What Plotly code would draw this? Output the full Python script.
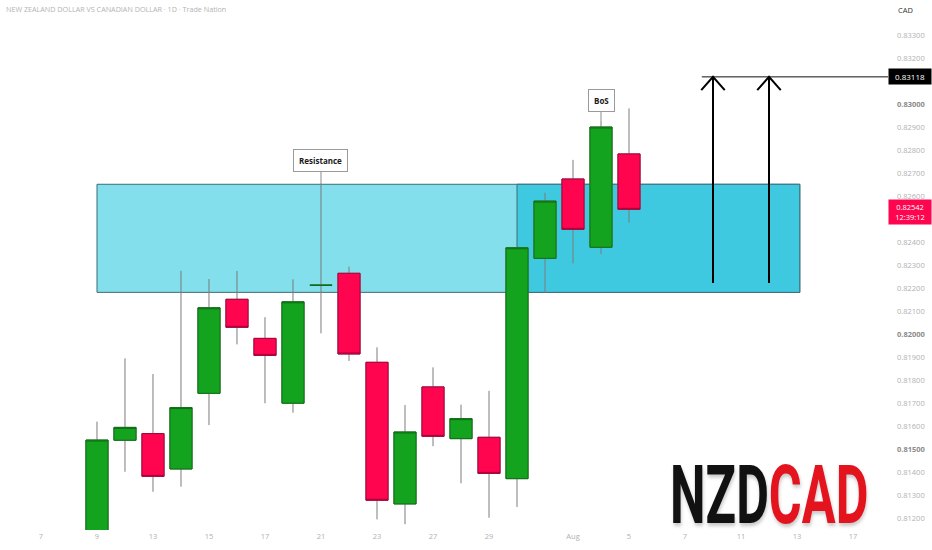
import plotly.graph_objects as go

# ---------------- data ----------------
bar_index = list(range(20))
opens  = [0.81130, 0.81538, 0.81567, 0.81413, 0.81742, 0.82151, 0.81981, 0.81699, 0.82212, 0.82264,
          0.81877, 0.81261, 0.81770, 0.81545, 0.81551, 0.81371, 0.82329, 0.82674, 0.82377, 0.82783]
highs  = [0.81619, 0.81894, 0.81826, 0.82275, 0.82239, 0.82274, 0.82073, 0.82238, 0.82657, 0.82293,
          0.81942, 0.81691, 0.81855, 0.81693, 0.81753, 0.82378, 0.82614, 0.82757, 0.82927, 0.82981]
lows   = [0.81130, 0.81401, 0.81314, 0.81336, 0.81604, 0.81955, 0.81699, 0.81658, 0.82003, 0.81883,
          0.81194, 0.81173, 0.81512, 0.81351, 0.81201, 0.81248, 0.82180, 0.82307, 0.82347, 0.82484]
closes = [0.81539, 0.81594, 0.81381, 0.81680, 0.82114, 0.82029, 0.81907, 0.82140, 0.82212, 0.81913,
          0.81277, 0.81574, 0.81555, 0.81632, 0.81394, 0.82375, 0.82578, 0.82455, 0.82900, 0.82542]

x_tick_pos  = [-2, 0, 2, 4, 6, 8, 10, 12, 14, 17, 19, 21, 23, 25, 27]
x_tick_text = ["7", "9", "13", "15", "17", "21", "23", "27", "29", "Aug", "5", "7", "11", "13", "17"]

y_tick_vals = [0.812, 0.813, 0.814, 0.815, 0.816, 0.817, 0.818, 0.819, 0.820, 0.821, 0.822,
               0.823, 0.824, 0.826, 0.827, 0.828, 0.829, 0.830, 0.832, 0.833]
y_major = [0.815, 0.820, 0.830]

zone_top, zone_bottom = 0.82651, 0.82181
zone_start, zone_break, zone_end = 0, 15, 25.1
target_price = 0.83118
last_price = 0.82542
last_time = "12:39:12"
arrow_x = [22, 24]
arrow_base = 0.82222
target_line_start = 21.6

resistance_bar = 8
bos_bar = 18

# ---------------- styles ----------------
GREEN = "#14A31E"
GREEN_EDGE = "#0C6E13"
RED = "#FF0550"
RED_EDGE = "#A8003A"
WICK = "#7C7C7C"
ZONE_LIGHT = "#82DFEB"
ZONE_DARK = "#3FC9E0"
ZONE_EDGE = "#3F6C76"
FONT = "Open Sans"
LOGO_FONT = "Roboto, sans-serif"

x_range = [-3.464, 28.25]
y_range = [0.811478, 0.834522]

fig = go.Figure()

# wicks layer
fig.add_trace(go.Candlestick(
    x=bar_index, open=opens, high=highs, low=lows, close=closes,
    increasing=dict(fillcolor=GREEN, line=dict(color=WICK, width=1)),
    decreasing=dict(fillcolor=RED, line=dict(color=WICK, width=1)),
    whiskerwidth=0, hoverinfo="skip", showlegend=False,
))
# bodies layer
body_hi = [max(o, c) for o, c in zip(opens, closes)]
body_lo = [min(o, c) for o, c in zip(opens, closes)]
fig.add_trace(go.Candlestick(
    x=bar_index, open=opens, high=body_hi, low=body_lo, close=closes,
    increasing=dict(fillcolor=GREEN, line=dict(color=GREEN_EDGE, width=1)),
    decreasing=dict(fillcolor=RED, line=dict(color=RED_EDGE, width=1)),
    whiskerwidth=0, hoverinfo="skip", showlegend=False,
))

shapes = [
    dict(type="rect", xref="x", yref="y", x0=zone_start, x1=zone_end, y0=zone_bottom, y1=zone_top,
         fillcolor=ZONE_LIGHT, line=dict(color=ZONE_EDGE, width=1), layer="below"),
    dict(type="rect", xref="x", yref="y", x0=zone_break, x1=zone_end, y0=zone_bottom, y1=zone_top,
         fillcolor=ZONE_DARK, line=dict(color=ZONE_EDGE, width=1), layer="below"),
    dict(type="line", xref="x", yref="y", x0=target_line_start, x1=x_range[1], y0=target_price, y1=target_price,
         line=dict(color="#111111", width=1)),
]
head_dx = 0.42
head_dy = 0.00058
for ax in arrow_x:
    path = (f"M {ax},{arrow_base} L {ax},{target_price} "
            f"M {ax - head_dx},{target_price - head_dy} L {ax},{target_price} L {ax + head_dx},{target_price - head_dy}")
    shapes.append(dict(type="path", xref="x", yref="y", path=path, line=dict(color="#000000", width=2)))

y_tick_text = []
for v in y_tick_vals:
    s = f"{v:.5f}"
    if any(abs(v - m) < 1e-9 for m in y_major):
        y_tick_text.append(f"<span style='color:#8a8a8a'><b>{s}</b></span>")
    else:
        y_tick_text.append(s)

annotations = [
    dict(xref="paper", yref="paper", x=4 / 888, y=1, xanchor="left", yanchor="middle", yshift=-9,
         text="NEW ZEALAND DOLLAR VS CANADIAN DOLLAR · 1D · Trade Nation", showarrow=False,
         font=dict(family=FONT, size=7.2, color="#b3b3b3")),
    dict(xref="paper", yref="paper", x=906 / 888, y=1, xanchor="center", yanchor="middle", yshift=-10,
         text="CAD", showarrow=False, font=dict(family=FONT, size=7.5, color="#333333")),
    dict(xref="paper", yref="y", x=1, y=target_price, xanchor="left", yanchor="middle",
         text=f"{target_price:.5f}", showarrow=False, bgcolor="#000000", width=38, borderpad=2,
         font=dict(family=FONT, size=8, color="#ffffff")),
    dict(xref="paper", yref="y", x=1, y=last_price, xanchor="left", yanchor="middle", yshift=-3,
         text=f"{last_price:.5f}<br>{last_time}", showarrow=False, bgcolor=RED, width=38, borderpad=2,
         font=dict(family=FONT, size=7.5, color="#ffffff")),
    dict(xref="x", yref="y", x=resistance_bar, y=highs[resistance_bar], ax=0, ay=-22,
         text="<b>Resistance</b>", showarrow=True, arrowhead=0, arrowwidth=1, arrowcolor="#8c8c8c",
         bgcolor="#ffffff", bordercolor="#9a9a9a", borderwidth=1, borderpad=5,
         font=dict(family=FONT, size=8, color="#1a1a1a")),
    dict(xref="x", yref="y", x=bos_bar, y=highs[bos_bar], ax=0, ay=-20,
         text="<b>BoS</b>", showarrow=True, arrowhead=0, arrowwidth=1, arrowcolor="#8c8c8c",
         bgcolor="#ffffff", bordercolor="#9a9a9a", borderwidth=1, borderpad=5,
         font=dict(family=FONT, size=8, color="#1a1a1a")),
    dict(xref="paper", yref="paper", x=769 / 888, y=(530 - 494.5) / 530, xanchor="center", yanchor="middle",
         text="<b><span style='color:#111111'>NZD</span><span style='color:#E3141E'>CAD</span></b>",
         showarrow=False,
         font=dict(family=LOGO_FONT, size=58, shadow="1px 2px 4px rgba(0,0,0,0.22)")),
]

fig.update_layout(
    width=932, height=550,
    margin=dict(l=0, r=44, t=0, b=20),
    plot_bgcolor="#ffffff", paper_bgcolor="#ffffff",
    shapes=shapes, annotations=annotations,
    boxgap=0.21, boxgroupgap=0,
    showlegend=False,
    font=dict(family=FONT),
    xaxis=dict(range=x_range, tickvals=x_tick_pos, ticktext=x_tick_text, showgrid=False, zeroline=False,
               showline=False, ticks="", rangeslider=dict(visible=False),
               tickfont=dict(family=FONT, size=7.5, color="#b0b0b0")),
    yaxis=dict(range=y_range, side="right", tickvals=y_tick_vals, ticktext=y_tick_text, showgrid=False,
               zeroline=False, showline=False, ticks="", ticklabelstandoff=8,
               tickfont=dict(family=FONT, size=7.5, color="#b0b0b0")),
)

page_js = (
    "document.body.style.margin='0';document.body.style.overflow='hidden';"
    "var gd=document.getElementById('{plot_id}');"
    "gd.querySelectorAll('text.annotation-text').forEach(function(t){"
    "if(t.textContent==='NZDCAD'){t.style.transformBox='fill-box';t.style.transformOrigin='center';"
    "t.style.transform='scale(0.868,1.42)';}});"
)

fig.write_html("out.html", config={"displayModeBar": False}, post_script=page_js)
